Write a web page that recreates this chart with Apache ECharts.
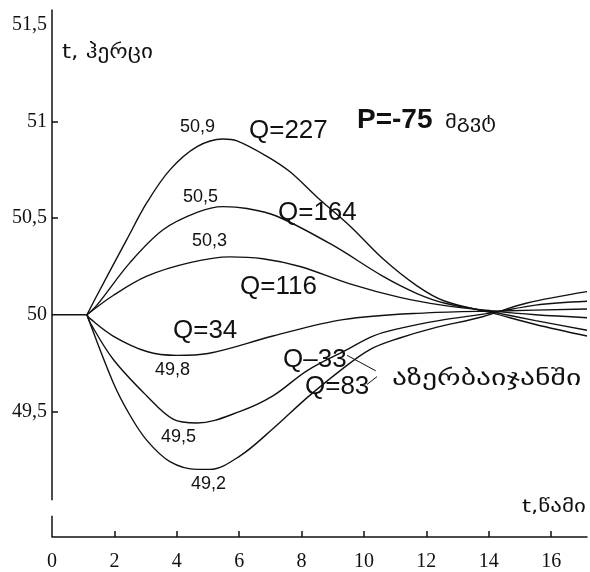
<!DOCTYPE html>
<html>
<head>
<meta charset="utf-8">
<script src="https://cdn.jsdelivr.net/npm/echarts@6/dist/echarts.min.js"></script>
<style>html,body{margin:0;padding:0;background:#fff}#c{width:590px;height:572px}</style>
</head>
<body>
<div id="c"></div>
<script>
// x tick labels / ticks, y tick labels / ticks
const xLabelValues = [0, 2, 4, 6, 8, 10, 12, 14, 16];
const xTickValues = [2, 4, 6, 8, 10, 12, 14, 16];
const yLabelValues = [49.5, 50, 50.5, 51, 51.5];
const yTickValues = [49.5, 50.5, 51];

// curves [t, f]
const baseline = [[0, 50], [1.12, 50]];
const q227 = [[1.12,50],[1.44,50.10],[2.4,50.39],[3.04,50.58],[3.78,50.75],[4.65,50.87],[5.48,50.91],[5.93,50.90],[6.89,50.82],[7.63,50.74],[8.49,50.61],[9.55,50.46],[10.61,50.29],[11.7,50.15],[12.6,50.07],[14.1,50.01],[15.5,49.95],[17.15,49.89]];
const q164 = [[1.12,50],[1.44,50.05],[2.5,50.27],[3.56,50.44],[4.65,50.53],[5.48,50.56],[6.25,50.55],[7.21,50.51],[9.0,50.36],[10.6,50.20],[11.7,50.11],[12.6,50.06],[14.1,50.015],[15.5,49.97],[17.15,49.92]];
const q116 = [[1.12,50],[1.96,50.10],[3.04,50.20],[4.42,50.27],[5.7,50.30],[6.76,50.29],[7.95,50.25],[9.55,50.16],[11.15,50.09],[12.5,50.05],[14.1,50.02],[15.5,50.0],[17.15,49.985]];
const q34 = [[1.12,50],[1.22,49.98],[1.96,49.89],[3.04,49.81],[4.0,49.79],[5.0,49.80],[7.08,49.89],[9.33,49.975],[12.0,50.01],[14.4,50.02],[17.15,50.03]];
const qm33 = [[1.12,50],[1.22,49.96],[1.96,49.77],[3.04,49.58],[3.88,49.46],[4.65,49.44],[6.03,49.50],[7.08,49.58],[8.17,49.71],[9.46,49.82],[10.29,49.89],[11.15,49.93],[12.4,49.97],[14.1,50.01],[15.5,50.05],[17.15,50.07]];
const qm83 = [[1.12,50],[1.96,49.65],[2.5,49.48],[3.04,49.35],[3.78,49.24],[4.65,49.20],[5.06,49.20],[6.03,49.27],[7.08,49.41],[8.17,49.57],[9.23,49.71],[10.19,49.82],[11.15,49.88],[12.2,49.93],[13.8,49.99],[15.2,50.06],[17.15,50.12]];
const curveNames = ['Q=227', 'Q=164', 'Q=116', 'Q=34', 'Q=-33', 'Q=-83'];
const curves = [q227, q164, q116, q34, qm33, qm83];

// broken y axis line pieces and label leader lines
const yAxisUpper = [[0, 49.04], [0, 51.58]];
const yAxisLower = [[0, 48.85], [0, 48.96]];
const leader33 = [[9.46, 49.79], [10.38, 49.71]];
const leader83 = [[10.1, 49.64], [10.42, 49.68]];

const chart = echarts.init(document.getElementById('c'));
const lineSeries = (name, data, w, smooth) => ({
  name, type: 'line', data, showSymbol: false, smooth: smooth, clip: false,
  lineStyle: { color: '#111', width: w }, silent: true
});
const series = curves.map((d, i) => lineSeries(curveNames[i], d, 1.4, 0.35));
series.push(lineSeries('base', baseline, 1.5, false));
series.push(lineSeries('yaxisU', yAxisUpper, 1.5, false));
series.push(lineSeries('yaxisL', yAxisLower, 1.5, false));
series.push(lineSeries('l33', leader33, 1, false));
series.push(lineSeries('l83', leader83, 1, false));

const sans = 'Liberation Sans';
const geo = 'DejaVu Sans';
const txt = (text, left, cy, size, font, weight, sx) => ({
  type: 'text', x: left, y: cy - size / 2, scaleX: sx || 1,
  style: { text, font: (weight || 'normal') + ' ' + size + 'px "' + font + '"', fill: '#111', textVerticalAlign: 'top' }
});

chart.setOption({
  animation: false,
  backgroundColor: '#fff',
  grid: { left: 52, right: 3, top: 9.5, bottom: 33 },
  xAxis: {
    type: 'value', min: 0, max: 17.15,
    axisLine: { show: true, lineStyle: { color: '#111', width: 1.5 } },
    axisTick: { show: true, inside: true, length: 6, customValues: xTickValues, lineStyle: { color: '#111', width: 1.5 } },
    axisLabel: { customValues: xLabelValues, margin: 15, color: '#111', fontFamily: 'Liberation Serif', fontSize: 20 },
    splitLine: { show: false }
  },
  yAxis: {
    type: 'value', min: 48.85, max: 51.58,
    axisLine: { show: false },
    axisTick: { show: true, inside: true, length: 6, customValues: yTickValues, lineStyle: { color: '#111', width: 1.5 } },
    axisLabel: { customValues: yLabelValues, margin: 5, color: '#111', fontFamily: 'Liberation Serif', fontSize: 20,
      formatter: v => String(v).replace('.', ',') },
    splitLine: { show: false }
  },
  series,
  graphic: [
    txt('t, ჰერცი', 62, 53, 19, geo, 'normal', 1.22),
    txt('t,წამი', 522, 507, 18, geo, 'normal', 1.28),
    txt('P=-75', 357, 120, 28, sans, 'bold'),
    txt('მგვტ', 445, 123, 18, geo, 'normal', 1.25),
    txt('50,9', 180, 127, 18, sans),
    txt('Q=227', 249, 131, 26, sans),
    txt('50,5', 183, 197, 18, sans),
    txt('Q=164', 278, 213, 26, sans),
    txt('50,3', 192, 241, 18, sans),
    txt('Q=116', 240, 287, 26, sans),
    txt('Q=34', 173, 331, 26, sans),
    txt('49,8', 155, 370, 18, sans),
    txt('49,5', 161, 437, 18, sans),
    txt('49,2', 191, 484, 18, sans),
    txt('Q–33', 283, 360, 26, sans),
    txt('Q=83', 305, 387, 26, sans),
    txt('აზერბაიჯანში', 392, 379, 22, geo, 'normal', 1.35)
  ]
});
</script>
</body>
</html>
